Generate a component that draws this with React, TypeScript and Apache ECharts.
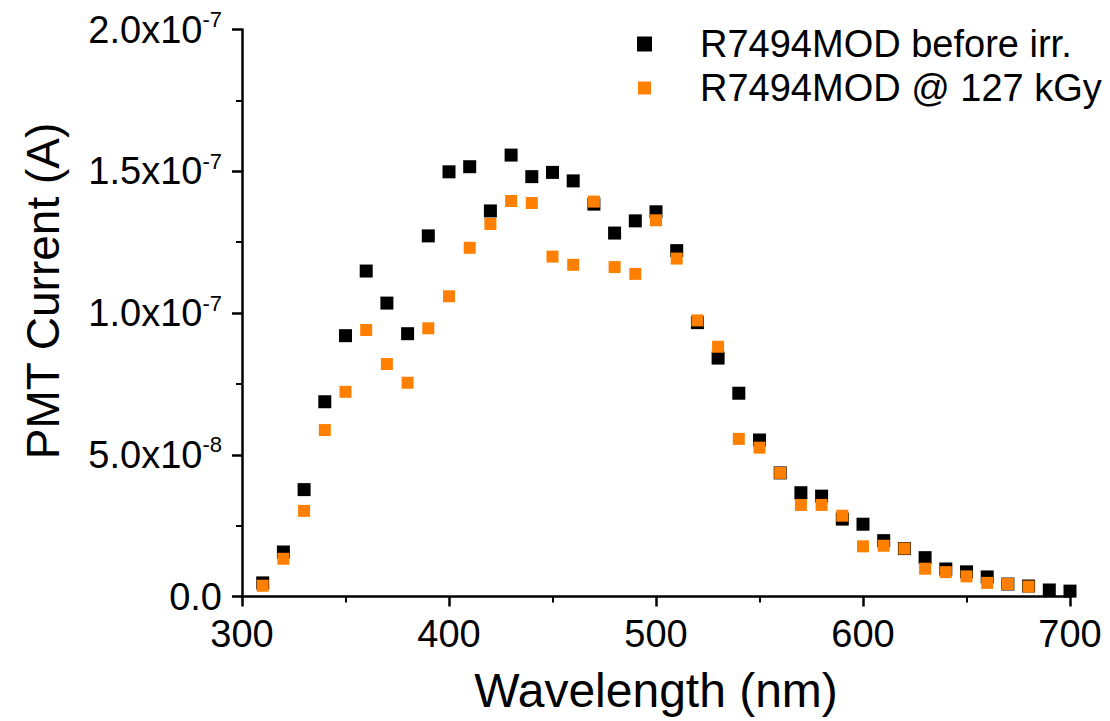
import React, { useEffect, useRef } from "react";
import * as echarts from "echarts";

// Wavelength (nm)
const wavelengths = [
  310, 320, 330, 340, 350, 360, 370, 380, 390, 400, 410, 420, 430, 440, 450, 460, 470, 480, 490, 500,
  510, 520, 530, 540, 550, 560, 570, 580, 590, 600, 610, 620, 630, 640, 650, 660, 670, 680, 690, 700,
];

// PMT current, in units of 1e-7 A
const beforeIrr = [
  0.048, 0.157, 0.377, 0.687, 0.92, 1.148, 1.035, 0.927, 1.272, 1.498, 1.516, 1.36, 1.557, 1.481, 1.496,
  1.466, 1.384, 1.282, 1.325, 1.357, 1.22, 0.966, 0.841, 0.717, 0.552, 0.436, 0.366, 0.354, 0.273, 0.255,
  0.197, 0.169, 0.137, 0.097, 0.087, 0.069, 0.044, 0.037, 0.023, 0.019,
];

const at127kGy = [
  0.038, 0.133, 0.302, 0.587, 0.722, 0.94, 0.82, 0.754, 0.946, 1.059, 1.23, 1.314, 1.395, 1.388, 1.199,
  1.17, 1.393, 1.162, 1.138, 1.327, 1.192, 0.974, 0.881, 0.556, 0.525, 0.436, 0.323, 0.323, 0.285, 0.177,
  0.179, 0.169, 0.098, 0.086, 0.071, 0.048, 0.044, 0.035,
];

const seriesNames = ["R7494MOD before irr.", "R7494MOD @ 127 kGy"];
const xTitle = "Wavelength (nm)";
const yTitle = "PMT Current (A)";

const FONT = "'Liberation Sans', Arial, Helvetica, sans-serif";

function yLabel(v: number): string {
  if (Math.abs(v) < 1e-15) return "{m|0.0}";
  const e = Math.floor(Math.log10(v) + 1e-9);
  const m = v / Math.pow(10, e);
  return `{m|${m.toFixed(1)}x10}{e|${e}}`;
}

export default function App() {
  const ref = useRef<HTMLDivElement>(null);

  useEffect(() => {
    if (!ref.current) return;
    const chart = echarts.init(ref.current, null, { renderer: "svg" });
    const unit = 1e-7;
    const option: any = {
      animation: false,
      backgroundColor: "#ffffff",
      textStyle: { fontFamily: FONT },
      grid: { left: 242, right: 40, top: 29.5, bottom: 124.5, containLabel: false },
      legend: [
        {
          data: [seriesNames[0]],
          left: 637,
          top: 24,
          padding: 0,
          icon: "rect",
          itemWidth: 15,
          itemHeight: 15,
          selectedMode: false,
          itemStyle: { opacity: 1 },
          textStyle: { fontSize: 38, color: "#000", fontFamily: FONT, lineHeight: 40, padding: [0, 0, 0, 43] },
        },
        {
          data: [seriesNames[1]],
          left: 638,
          top: 68,
          padding: 0,
          icon: "rect",
          itemWidth: 13,
          itemHeight: 13,
          selectedMode: false,
          itemStyle: { opacity: 1 },
          textStyle: { fontSize: 38, color: "#000", fontFamily: FONT, lineHeight: 40, padding: [0, 0, 0, 44] },
        },
      ],
      xAxis: {
        type: "value",
        min: 300,
        max: 700,
        interval: 100,
        name: xTitle,
        nameLocation: "middle",
        nameGap: 70,
        nameTextStyle: { fontSize: 48, color: "#000", fontFamily: FONT },
        axisLine: { show: true, onZero: false, lineStyle: { color: "#000", width: 2.5 } },
        axisTick: { show: true, inside: false, length: 10, lineStyle: { color: "#000", width: 2.5 } },
        minorTick: { show: true, splitNumber: 2, length: 6, lineStyle: { color: "#000", width: 2 } },
        splitLine: { show: false },
        minorSplitLine: { show: false },
        axisLabel: {
          fontSize: 38,
          color: "#000",
          fontFamily: FONT,
          margin: 18,
          showMinLabel: true,
          showMaxLabel: true,
        },
      },
      yAxis: {
        type: "value",
        min: 0,
        max: 2e-7,
        interval: 0.5e-7,
        name: yTitle,
        nameLocation: "middle",
        nameGap: 176,
        nameRotate: 90,
        nameTextStyle: { fontSize: 46, color: "#000", fontFamily: FONT, padding: [0, 0, 0, 44] },
        axisLine: { show: true, onZero: false, lineStyle: { color: "#000", width: 2.5 } },
        axisTick: { show: true, inside: false, length: 10, lineStyle: { color: "#000", width: 2.5 } },
        minorTick: { show: true, splitNumber: 2, length: 6, lineStyle: { color: "#000", width: 2 } },
        splitLine: { show: false },
        minorSplitLine: { show: false },
        axisLabel: {
          margin: 20,
          showMinLabel: true,
          showMaxLabel: true,
          formatter: yLabel,
          rich: {
            m: { fontSize: 38, color: "#000", fontFamily: FONT },
            e: { fontSize: 22, color: "#000", fontFamily: FONT, padding: [0, 0, 20, 0] },
          },
        },
      },
      series: [
        {
          name: seriesNames[0],
          type: "scatter",
          symbol: "rect",
          symbolSize: 13,
          itemStyle: { color: "#000000", opacity: 1 },
          data: wavelengths.map((w, i) => [w, beforeIrr[i] * unit]),
          z: 2,
        },
        {
          name: seriesNames[1],
          type: "scatter",
          symbol: "rect",
          symbolSize: 12,
          itemStyle: { color: "#ff8000", opacity: 1 },
          data: at127kGy.map((v, i) => [wavelengths[i], v * unit]),
          z: 3,
        },
      ],
    };
    chart.setOption(option);
    return () => chart.dispose();
  }, []);

  return (
    <div
      ref={ref}
      style={{ position: "absolute", left: 0, top: 0, width: 1110, height: 721, background: "#fff" }}
    />
  );
}
